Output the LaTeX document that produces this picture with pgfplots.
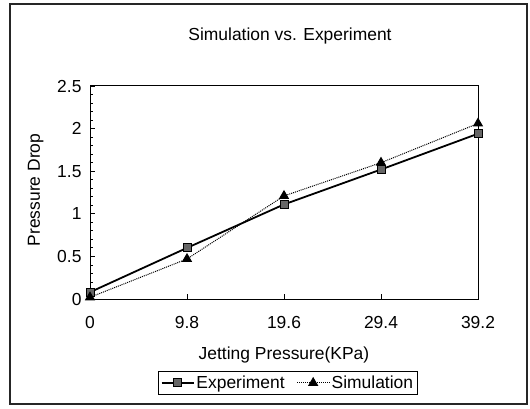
\documentclass[border=0pt]{standalone}
\usepackage{fontspec}
\setmainfont{Liberation Sans}
\usepackage{pgfplots}
\pgfplotsset{compat=1.18}
\begin{document}
\begin{tikzpicture}[x=1bp,y=1bp]
\useasboundingbox (0,0) rectangle (530,408);
\draw[line width=1.2bp, black!85] (10,4) rectangle (527,404);
\node[font=\fontsize{17.5}{20}\selectfont] at (290,372) {Simulation vs. Experiment};
\begin{axis}[
  at={(90bp,109bp)}, anchor=south west,
  width=388bp, height=213bp, scale only axis,
  xmin=0, xmax=39.2, ymin=0, ymax=2.5,
  xtick={0,9.8,19.6,29.4,39.2}, xticklabels={0,9.8,19.6,29.4,39.2},
  ytick={0,0.5,1,1.5,2,2.5}, yticklabels={0,0.5,1,1.5,2,2.5},
  minor y tick num=4,
  /pgf/number format/assume math mode=true,
  axis line style={black, line width=1bp},
  major tick length=5bp, minor tick length=3bp,
  every tick/.style={black, line width=0.8bp},
  xtick pos=bottom, ytick pos=left,
  tick label style={font=\fontsize{17.5}{20}\selectfont},
  xticklabel style={yshift=-14bp},
  yticklabel style={xshift=-5bp},
  label style={font=\fontsize{17.5}{20}\selectfont},
  xlabel={Jetting Pressure(KPa)},
  ylabel={Pressure Drop},
  xlabel style={at={(rel axis cs:0.5,-0.263)}, anchor=center},
  ylabel style={at={(rel axis cs:-0.14,0.512)}, anchor=center, rotate=0},
  legend columns=2,
  legend style={at={(rel axis cs:0.51,-0.394)}, anchor=center,
    font=\fontsize{17.5}{20}\selectfont, draw=black, line width=1bp,
    inner sep=2.5bp, /tikz/every even column/.append style={column sep=10bp}},
  legend cell align=left,
  legend image code/.code={%
    \draw[mark repeat=2,mark phase=2,#1] plot coordinates {(0bp,0bp) (16bp,0bp) (32bp,0bp)};},
]
\addplot[black, line width=1.8bp, mark=square*, mark size=4bp,
  mark options={solid, fill=gray!80!black, draw=black, line width=1bp}]
  coordinates {(0,0.08) (9.8,0.60) (19.6,1.11) (29.4,1.52) (39.2,1.94)};
\addlegendentry{Experiment}
\addplot[black, line width=1bp, densely dotted, mark=triangle*, mark size=5bp,
  mark options={solid, fill=black}]
  coordinates {(0,0.02) (9.8,0.47) (19.6,1.21) (29.4,1.60) (39.2,2.06)};
\addlegendentry{Simulation}
\end{axis}
\end{tikzpicture}
\end{document}
